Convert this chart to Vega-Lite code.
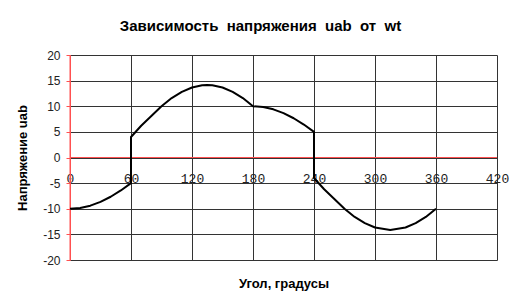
{
  "$schema": "https://vega.github.io/schema/vega-lite/v6.json",
  "width": 427,
  "height": 205,
  "autosize": {"type": "none"},
  "padding": {"left": 70, "top": 55, "right": 31, "bottom": 46},
  "background": "white",
  "title": {
    "text": "Зависимость\u00a0\u00a0напряжения\u00a0\u00a0uab\u00a0\u00a0от\u00a0\u00a0wt",
    "font": "Liberation Sans",
    "fontSize": 15,
    "fontWeight": "bold",
    "color": "#000000",
    "anchor": "middle",
    "dx": -23,
    "baseline": "alphabetic",
    "offset": 3
  },
  "config": {"view": {"stroke": null}},
  "layer": [
    {
      "data": {"values": [{"v": 0}]},
      "mark": {"type": "rule", "color": "#ff5050", "strokeWidth": 1},
      "encoding": {
        "y": {
          "field": "v",
          "type": "quantitative",
          "scale": {"domain": [-20, 20], "nice": false},
          "axis": {
            "values": [-20, -15, -10, -5, 0, 5, 10, 15, 20],
            "grid": true,
            "gridColor": "#333333",
            "gridWidth": 1,
            "gridOpacity": 1,
            "domain": true,
            "domainColor": "#ff5050",
            "ticks": true,
            "tickColor": "#ff5050",
            "tickSize": 4,
            "labelFont": "Liberation Sans",
            "labelFontSize": 12,
            "labelColor": "#222222",
            "labelPadding": 6,
            "labelOverlap": false,
            "labelExpr": "'' + datum.value",
            "title": "Напряжение uab",
            "titleFont": "Liberation Sans",
            "titleFontSize": 13,
            "titleFontWeight": "bold",
            "titleColor": "#000000",
            "titlePadding": 13
          }
        }
      }
    },
    {
      "data": {"values": [{"v": 0}]},
      "mark": {"type": "rule", "color": "#ff5050", "strokeWidth": 1},
      "encoding": {
        "x": {
          "field": "v",
          "type": "quantitative",
          "scale": {"domain": [0, 420], "nice": false, "zero": false},
          "axis": {
            "values": [0, 60, 120, 180, 240, 300, 360, 420],
            "grid": true,
            "gridColor": "#333333",
            "gridWidth": 1,
            "gridOpacity": 1,
            "domain": false,
            "ticks": false,
            "labelFont": "Liberation Mono",
            "labelFontSize": 13,
            "labelColor": "#222222",
            "labelBaseline": "alphabetic",
            "labelPadding": 25,
            "labelFlush": false,
            "labelOverlap": false,
            "offset": -102.5,
            "title": "Угол, градусы",
            "titleFont": "Liberation Sans",
            "titleFontSize": 13,
            "titleFontWeight": "bold",
            "titleColor": "#000000",
            "titleBaseline": "alphabetic",
            "titleY": 130
          }
        }
      }
    },
    {
      "data": {
        "values": [
          {"i": 1, "angle": 0, "u": -10},
          {"i": 2, "angle": 10, "u": -9.85},
          {"i": 3, "angle": 20, "u": -9.4},
          {"i": 4, "angle": 30, "u": -8.66},
          {"i": 5, "angle": 40, "u": -7.66},
          {"i": 6, "angle": 50, "u": -6.43},
          {"i": 7, "angle": 60, "u": -5},
          {"i": 8, "angle": 60, "u": 4},
          {"i": 9, "angle": 70, "u": 6.2},
          {"i": 10, "angle": 80, "u": 8.1},
          {"i": 11, "angle": 90, "u": 10},
          {"i": 12, "angle": 100, "u": 11.6},
          {"i": 13, "angle": 110, "u": 12.8},
          {"i": 14, "angle": 120, "u": 13.66},
          {"i": 15, "angle": 130, "u": 14.09},
          {"i": 16, "angle": 135, "u": 14.14},
          {"i": 17, "angle": 140, "u": 14.09},
          {"i": 18, "angle": 150, "u": 13.66},
          {"i": 19, "angle": 160, "u": 12.8},
          {"i": 20, "angle": 170, "u": 11.6},
          {"i": 21, "angle": 180, "u": 10},
          {"i": 22, "angle": 190, "u": 9.85},
          {"i": 23, "angle": 200, "u": 9.4},
          {"i": 24, "angle": 210, "u": 8.66},
          {"i": 25, "angle": 220, "u": 7.66},
          {"i": 26, "angle": 230, "u": 6.43},
          {"i": 27, "angle": 240, "u": 5},
          {"i": 28, "angle": 240, "u": -4},
          {"i": 29, "angle": 250, "u": -6.2},
          {"i": 30, "angle": 260, "u": -8.1},
          {"i": 31, "angle": 270, "u": -10},
          {"i": 32, "angle": 280, "u": -11.6},
          {"i": 33, "angle": 290, "u": -12.8},
          {"i": 34, "angle": 300, "u": -13.66},
          {"i": 35, "angle": 315, "u": -14.14},
          {"i": 36, "angle": 330, "u": -13.66},
          {"i": 37, "angle": 340, "u": -12.8},
          {"i": 38, "angle": 350, "u": -11.6},
          {"i": 39, "angle": 360, "u": -10}
        ]
      },
      "mark": {"type": "line", "color": "#000000", "strokeWidth": 2, "strokeJoin": "round"},
      "encoding": {
        "order": {"field": "i", "type": "quantitative"},
        "x": {
          "field": "angle",
          "type": "quantitative",
          "scale": {"domain": [0, 420], "nice": false, "zero": false},
          "axis": {
            "values": [0, 60, 120, 180, 240, 300, 360, 420],
            "grid": true,
            "gridColor": "#333333",
            "gridWidth": 1,
            "gridOpacity": 1,
            "domain": false,
            "ticks": false,
            "labelFont": "Liberation Mono",
            "labelFontSize": 13,
            "labelColor": "#222222",
            "labelBaseline": "alphabetic",
            "labelPadding": 25,
            "labelFlush": false,
            "labelOverlap": false,
            "offset": -102.5,
            "title": "Угол, градусы",
            "titleFont": "Liberation Sans",
            "titleFontSize": 13,
            "titleFontWeight": "bold",
            "titleColor": "#000000",
            "titleBaseline": "alphabetic",
            "titleY": 130
          }
        },
        "y": {
          "field": "u",
          "type": "quantitative",
          "scale": {"domain": [-20, 20], "nice": false},
          "axis": {
            "values": [-20, -15, -10, -5, 0, 5, 10, 15, 20],
            "grid": true,
            "gridColor": "#333333",
            "gridWidth": 1,
            "gridOpacity": 1,
            "domain": true,
            "domainColor": "#ff5050",
            "ticks": true,
            "tickColor": "#ff5050",
            "tickSize": 4,
            "labelFont": "Liberation Sans",
            "labelFontSize": 12,
            "labelColor": "#222222",
            "labelPadding": 6,
            "labelOverlap": false,
            "labelExpr": "'' + datum.value",
            "title": "Напряжение uab",
            "titleFont": "Liberation Sans",
            "titleFontSize": 13,
            "titleFontWeight": "bold",
            "titleColor": "#000000",
            "titlePadding": 13
          }
        }
      }
    }
  ]
}
